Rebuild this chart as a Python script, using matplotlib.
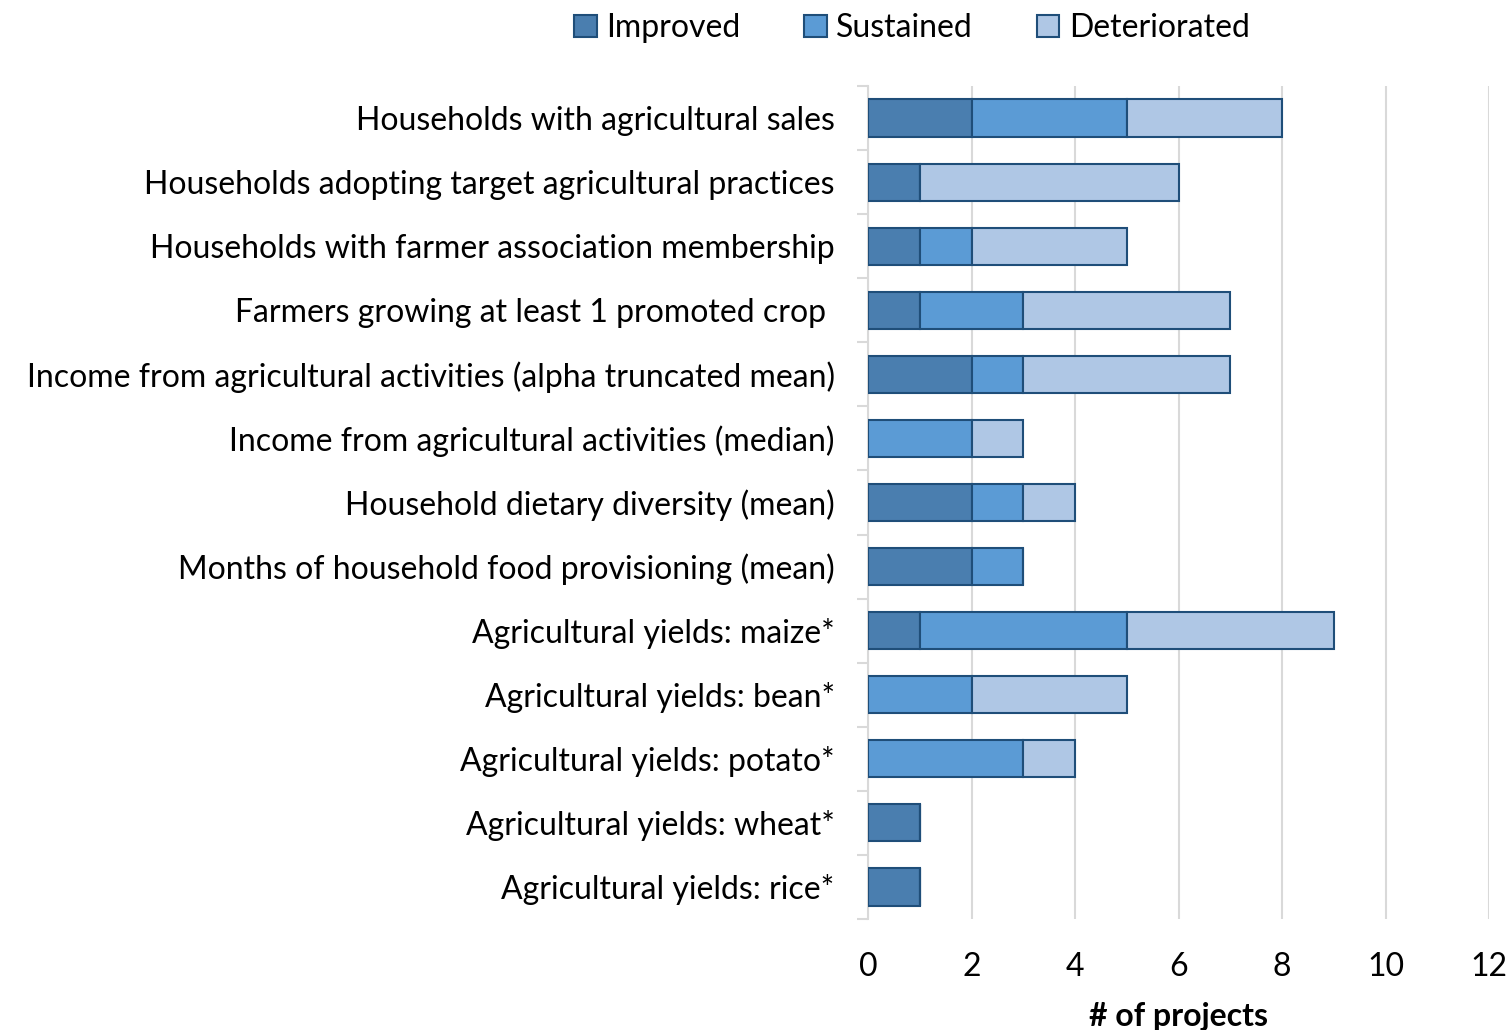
import numpy as np
import matplotlib.pyplot as plt
from matplotlib.patches import Patch

categories = [
    'Households with agricultural sales',
    'Households adopting target agricultural practices',
    'Households with farmer association membership',
    'Farmers growing at least 1 promoted crop ',
    'Income from agricultural activities (alpha truncated mean)',
    'Income from agricultural activities (median)',
    'Household dietary diversity (mean)',
    'Months of household food provisioning (mean)',
    'Agricultural yields: maize*',
    'Agricultural yields: bean*',
    'Agricultural yields: potato*',
    'Agricultural yields: wheat*',
    'Agricultural yields: rice*',
]
improved = [2, 1, 1, 1, 2, 0, 2, 2, 1, 0, 0, 1, 1]
sustained = [3, 0, 1, 2, 1, 2, 1, 1, 4, 2, 3, 0, 0]
deteriorated = [3, 5, 3, 4, 4, 1, 1, 0, 4, 3, 1, 0, 0]
series = ['Improved', 'Sustained', 'Deteriorated']
colors = ['#4A7EAF', '#5B9BD5', '#AFC7E5']
edge = '#1F4E79'

plt.rcParams['font.family'] = ['Lato', 'DejaVu Sans']
fs = 23

fig = plt.figure(figsize=(15.08, 10.3), dpi=100)
ax = fig.add_axes([868 / 1508, 1 - 919 / 1030, (1489 - 868) / 1508, (919 - 86) / 1030])

y = np.arange(len(categories))
left = np.zeros(len(categories))
for vals, c in zip([improved, sustained, deteriorated], colors):
    vals = np.array(vals, dtype=float)
    ax.barh(y, vals, left=left, height=0.58, color=c, edgecolor=edge, linewidth=1.5, zorder=3)
    left += vals

ax.set_ylim(len(categories) - 0.5, -0.5)
ax.set_xlim(0, 12)
ax.set_xticks(np.arange(0, 13, 2))
ax.set_yticks(y)
ax.set_yticklabels(categories, fontsize=fs)
ax.set_yticks(np.arange(-0.5, len(categories), 1), minor=True)
ax.tick_params(axis='y', which='major', length=0, pad=24)
ax.tick_params(axis='y', which='minor', length=8, color='#D9D9D9', width=1.5)
ax.tick_params(axis='x', length=0, pad=24, labelsize=fs)
ax.grid(axis='x', color='#D9D9D9', linewidth=1.5, zorder=0)
for s in ['top', 'right', 'bottom']:
    ax.spines[s].set_visible(False)
ax.spines['left'].set_color('#D9D9D9')
ax.spines['left'].set_linewidth(1.5)
ax.set_xlabel('# of projects', fontsize=fs, fontweight='bold', labelpad=14)

handles = [Patch(facecolor=c, edgecolor=edge, linewidth=1.5) for c in colors]
fig.legend(handles, series, loc='center', bbox_to_anchor=(912 / 1508, 1 - 28 / 1030), ncol=3,
           frameon=False, fontsize=fs, handlelength=0.7, handleheight=0.7, handletextpad=0.3,
           columnspacing=2.0)

fig.savefig('out.png', dpi=100)
